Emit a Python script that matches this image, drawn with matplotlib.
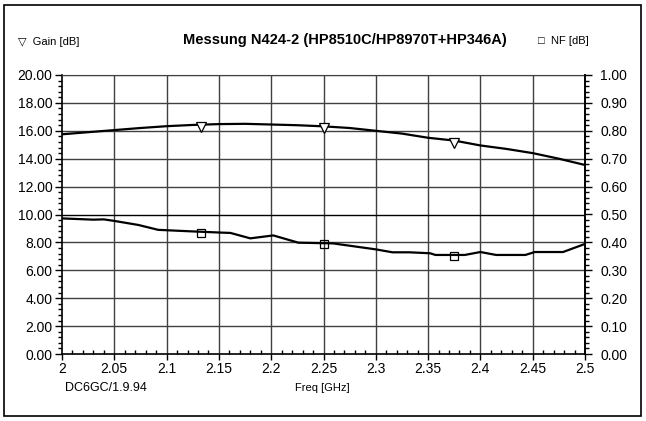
import matplotlib.pyplot as plt
import matplotlib.patches as patches
from matplotlib.ticker import MultipleLocator, FormatStrFormatter

plt.rcParams['font.family'] = ['Liberation Sans', 'DejaVu Sans']

freq = [2.0, 2.025, 2.05, 2.075, 2.1, 2.125, 2.15, 2.175, 2.2, 2.225, 2.25,
        2.275, 2.3, 2.325, 2.35, 2.375, 2.4, 2.425, 2.45, 2.475, 2.5]
gain = [15.75, 15.9, 16.05, 16.2, 16.33, 16.42, 16.48, 16.5, 16.45, 16.4, 16.32,
        16.2, 16.0, 15.8, 15.5, 15.3, 14.95, 14.7, 14.4, 14.0, 13.55]

nf_freq = [2.0, 2.03, 2.04, 2.05, 2.073, 2.092, 2.121, 2.153, 2.161, 2.18, 2.202,
           2.226, 2.259, 2.3, 2.316, 2.332, 2.352, 2.357, 2.385, 2.4, 2.415,
           2.443, 2.452, 2.479, 2.5]
nf = [9.72, 9.63, 9.65, 9.54, 9.25, 8.9, 8.8, 8.7, 8.68, 8.29, 8.5,
      7.98, 7.93, 7.5, 7.29, 7.29, 7.22, 7.1, 7.1, 7.31, 7.1,
      7.1, 7.31, 7.31, 7.89]

mark_freq = [2.133, 2.25, 2.375]
gain_mark = [16.3, 16.2, 15.1]
nf_mark = [8.7, 7.85, 7.0]

xticks = [2.0, 2.05, 2.1, 2.15, 2.2, 2.25, 2.3, 2.35, 2.4, 2.45, 2.5]
xlabels = ['2', '2.05', '2.1', '2.15', '2.2', '2.25', '2.3', '2.35', '2.4', '2.45', '2.5']

fig = plt.figure(figsize=(6.46, 4.21), dpi=100)
ax = fig.add_axes([62/646, 67/421, 523/646, 279/421])

gridc = '#404040'
for x in xticks[1:-1]:
    ax.axvline(x, color=gridc, lw=1, zorder=1)
for y in range(2, 21, 2):
    ax.axhline(y, color='black' if y == 10 else gridc, lw=1, zorder=1)

ax.plot(freq, gain, color='black', lw=1.6, zorder=3)
ax.plot(nf_freq, nf, color='black', lw=1.6, zorder=3)
ax.plot(mark_freq, gain_mark, ls='none', marker='v', ms=7, mfc='white', mec='black', mew=0.9, zorder=4)
ax.plot(mark_freq, nf_mark, ls='none', marker='s', ms=6, mfc='none', mec='black', mew=0.9, zorder=4)

ax.set_xlim(2.0, 2.5)
ax.set_ylim(0, 20)
ax.set_xticks(xticks)
ax.set_xticklabels(xlabels)
ax.xaxis.set_minor_locator(MultipleLocator(0.01))
ax.yaxis.set_major_locator(MultipleLocator(2))
ax.yaxis.set_minor_locator(MultipleLocator(0.4))
ax.yaxis.set_major_formatter(FormatStrFormatter('%.2f'))
ax.tick_params(axis='x', which='major', direction='out', length=4, width=1, labelsize=10, pad=2)
ax.tick_params(axis='x', which='minor', direction='in', length=3, width=1)
ax.tick_params(axis='y', which='major', direction='out', length=5, width=1, labelsize=10, pad=2)
ax.tick_params(axis='y', which='minor', direction='out', length=3, width=1)
ax.spines['top'].set_color(gridc)
for s in ['left', 'right', 'bottom']:
    ax.spines[s].set_linewidth(1.2)

ax2 = ax.twinx()
ax2.set_ylim(0, 1)
ax2.yaxis.set_major_locator(MultipleLocator(0.1))
ax2.yaxis.set_minor_locator(MultipleLocator(0.02))
ax2.yaxis.set_major_formatter(FormatStrFormatter('%.2f'))
ax2.tick_params(axis='y', which='major', direction='out', length=5, width=1, labelsize=10, pad=6)
ax2.tick_params(axis='y', which='minor', direction='out', length=3, width=1)
for s in ['top', 'left', 'bottom']:
    ax2.spines[s].set_visible(False)
ax2.spines['right'].set_linewidth(1.2)

fig.text(345/646, 1 - 40/421, 'Messung N424-2 (HP8510C/HP8970T+HP346A)', ha='center', va='center',
         fontsize=10.5, fontweight='bold')
fig.text(18/646, 1 - 42/421, '\u25bd  Gain [dB]', ha='left', va='center', fontsize=8)
fig.text(538/646, 1 - 41/421, '\u25a1  NF [dB]', ha='left', va='center', fontsize=8)
fig.text(65/646, 1 - 388/421, 'DC6GC/1.9.94', ha='left', va='center', fontsize=9)
fig.text(322/646, 1 - 388/421, 'Freq [GHz]', ha='center', va='center', fontsize=8)

fig.patches.append(patches.Rectangle((4/646, 5/421), 637/646, 411/421, transform=fig.transFigure,
                                     fill=False, edgecolor='black', lw=1.2))

fig.savefig('out.png', dpi=100)
